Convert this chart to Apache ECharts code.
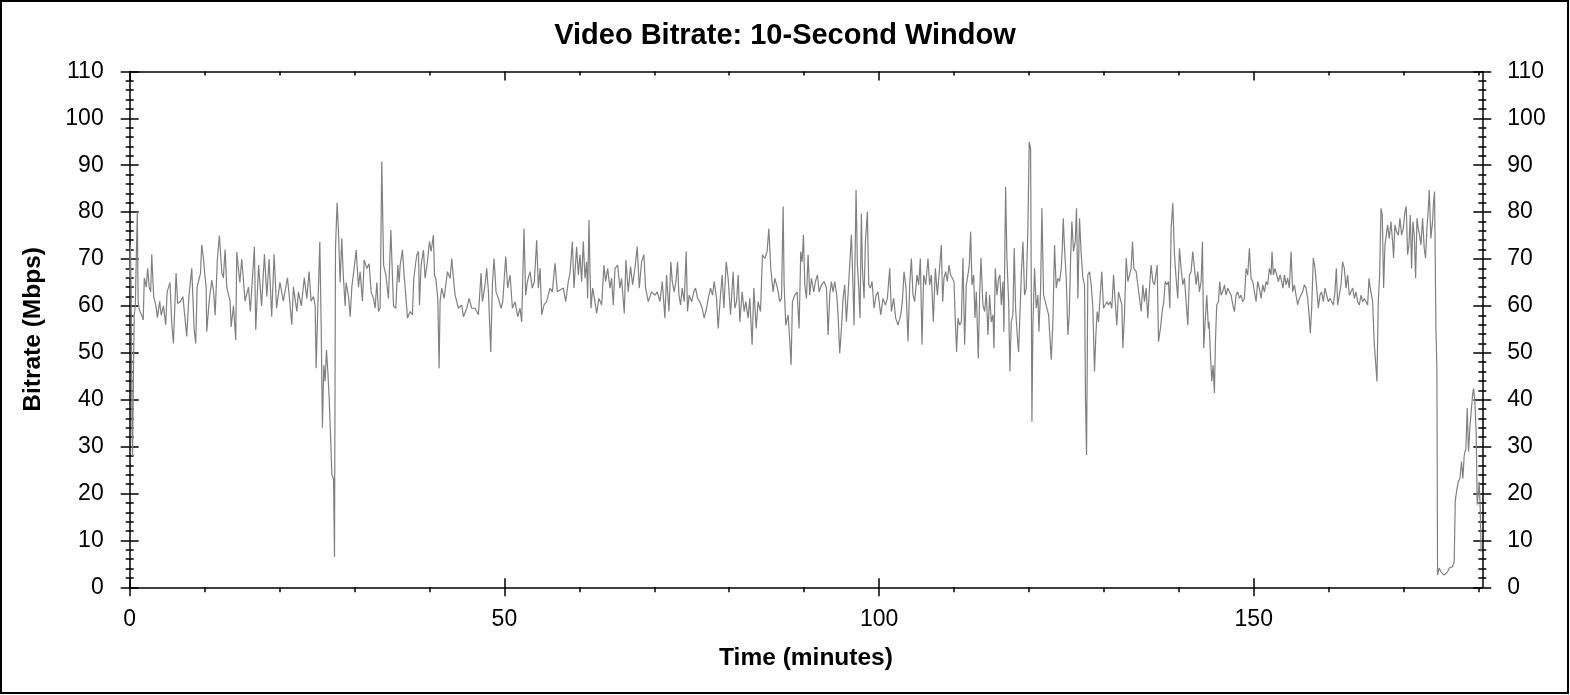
<!DOCTYPE html>
<html>
<head>
<meta charset="utf-8">
<title>Video Bitrate: 10-Second Window</title>
<script src="https://cdn.jsdelivr.net/npm/echarts@6/dist/echarts.min.js"></script>
<style>
  html, body { margin: 0; padding: 0; background: #fff; }
  #chart { width: 1570px; height: 695px; }
</style>
</head>
<body>
<div id="chart"></div>
<script>
// bitrate samples, split into five stretches of the timeline
const minutesA = [0, 0.1, 0.2, 0.3, 0.38, 0.5, 0.6, 0.75, 0.9, 1.02,
  1.12, 1.3, 1.6, 1.8, 1.95, 2.2, 2.4, 2.6, 2.8, 2.94,
  3.2, 3.5, 3.7, 4.0, 4.2, 4.5, 4.8, 5.0, 5.38, 5.6,
  5.83, 6.19, 6.4, 6.8, 7.1, 7.61, 7.9, 8.28, 8.6, 8.81,
  9.0, 9.3, 9.45, 9.61, 9.85, 10.06, 10.2, 10.28, 10.6, 10.95,
  11.2, 11.4, 11.7, 11.97, 12.3, 12.5, 12.73, 12.95, 13.4, 13.53,
  13.85, 14.15, 14.29, 14.7, 14.95, 15.4, 15.85, 16.1, 16.64, 16.82,
  17.2, 17.6, 17.98, 18.3, 18.6, 18.95, 19.27, 19.6, 20.05, 20.5,
  21.05, 21.3, 21.63, 21.85, 22.3, 22.52, 22.9, 23.3, 23.63, 23.94,
  24.2, 24.52, 24.75, 24.88, 25.05, 25.37, 25.55, 25.72, 25.9, 26.08,
  26.26, 26.44, 26.62, 26.8, 26.98, 27.2, 27.33, 27.46, 27.68, 27.86,
  28.08, 28.3, 28.52, 28.75, 28.88, 29.2, 29.42, 29.64, 30.0, 30.22,
  30.53, 30.75, 31.06, 31.29, 31.64, 31.95, 32.22, 32.53, 32.75, 32.98,
  33.2, 33.42, 33.64, 33.88, 34.18, 34.53, 34.85, 35.2, 35.51, 35.78,
  35.96]
const mbpsA = [66, 73, 62, 35, 28, 45, 58, 60, 72, 80,
  61, 59, 58, 57, 66, 64, 68, 64, 63, 71,
  62, 60, 57.5, 61, 58, 60, 56, 63, 65, 56.5,
  52, 67, 60.5, 61, 62, 53.5, 62, 68, 55, 52,
  64, 66, 67, 73, 70, 66, 64, 54.5, 61, 65.5,
  63, 58, 70, 75, 67, 66, 72, 64, 61, 55.5,
  60, 52.7, 71.5, 65, 70, 61, 64, 58.8, 72.6, 54.9,
  68.7, 60, 71, 62, 70, 57.7, 71, 59.5, 65, 61,
  66, 62, 56, 64, 58.8, 63, 60, 66, 61.6, 67.3,
  61, 62, 60, 46.7, 56.6, 73.7, 56, 34, 47.4, 43.9,
  50.6, 46, 40.3, 32.5, 24, 23.2, 6.5, 72.3, 82, 75.8,
  65, 74.4, 66, 60, 65, 62, 57.7, 64, 68.7, 71.9,
  64, 67.3, 61, 69.8, 68, 69, 63, 61.6, 59.5, 65,
  58.8, 59.5, 90.8, 68.7, 66.6, 61.6, 76.2, 60, 59.5, 68.7,
  65]

const minutesB = [36.09, 36.4, 36.62, 36.84, 37.07, 37.42, 37.73, 37.91, 38.31, 38.53,
  38.67, 38.89, 39.2, 39.42, 39.73, 40, 40.22, 40.53, 40.67, 40.84,
  41.11, 41.29, 41.42, 41.64, 41.96, 42.18, 42.4, 42.76, 42.98, 43.2,
  43.42, 43.87, 44.31, 44.53, 44.98, 45.29, 45.64, 46.09, 46.53, 46.89,
  47.07, 47.42, 47.64, 47.87, 48.18, 48.4, 48.62, 48.89, 49.2, 49.56,
  49.78, 50.18, 50.44, 50.76, 51.07, 51.42, 51.78, 52.09, 52.31, 52.62,
  52.84, 53.07, 53.42, 53.73, 54, 54.31, 54.53, 54.76, 54.98, 55.29,
  55.64, 56.09, 56.4, 56.76, 57.07, 57.42, 57.87, 58.18, 58.53, 58.76,
  59.07, 59.29, 59.64, 59.87, 60.09, 60.31, 60.53, 60.76, 60.98, 61.11,
  61.29, 61.42, 61.56, 61.78, 62.09, 62.31, 62.62, 62.98, 63.29, 63.51,
  63.78, 64.09, 64.31, 64.53, 64.76, 65.11, 65.42, 65.64, 66, 66.22,
  66.53, 66.84, 67.11, 67.42, 67.73, 68, 68.31, 68.62, 68.84, 69.2,
  69.64, 70.09, 70.4, 70.76, 71.07, 71.42, 71.64, 71.96]
const mbpsB = [68.7, 71.9, 66.6, 62.3, 57.4, 58.8, 58.1, 65.9, 70.9, 71.6,
  60.2, 68.7, 71.9, 65.9, 69.4, 73.7, 71.6, 75.1, 66.6, 65.9,
  61.6, 46.7, 60.9, 63.8, 61.6, 64.5, 67.3, 65.9, 70.1, 65.9,
  62.3, 59.5, 60.2, 57.7, 59.5, 61.6, 59.5, 59.5, 58.1, 67,
  60.9, 64.5, 68, 63, 50.2, 64.5, 70.1, 63, 61.6, 59.5,
  60.9, 70.5, 63.8, 66.6, 59.5, 60.9, 57.7, 59.5, 56.6, 76.5,
  62.3, 65.2, 67.3, 63.8, 65.2, 74, 63.8, 68, 58.1, 60.2,
  60.9, 63.8, 63, 69.1, 63, 63.4, 63.8, 60.9, 65.2, 67,
  73.7, 63.8, 72.6, 66.6, 70.9, 65.2, 73.7, 65.9, 69.4, 61.6,
  78.3, 68, 59.5, 63.8, 60.9, 58.4, 61.6, 60.2, 68.7, 65.2,
  68, 63.8, 65.9, 60.2, 68, 68.7, 63.8, 65.9, 58.4, 69.8,
  63, 68.4, 64.5, 68, 72.6, 63.8, 69.4, 70.9, 63.8, 60.9,
  63, 62.3, 63, 60.9, 65.2, 57.4, 66.6, 58.8]

const minutesC = [72.22, 72.4, 72.66, 72.89, 73.11, 73.29, 73.51, 73.73, 74.0, 74.26,
  74.44, 74.66, 74.98, 75.29, 75.51, 75.78, 76.09, 76.4, 76.66, 76.98,
  77.2, 77.51, 77.78, 78.0, 78.31, 78.53, 78.84, 79.06, 79.29, 79.6,
  79.86, 80.18, 80.53, 80.75, 80.98, 81.2, 81.42, 81.73, 82.0, 82.22,
  82.53, 82.75, 83.06, 83.29, 83.6, 83.86, 84.18, 84.44, 84.75, 85.06,
  85.29, 85.55, 85.86, 86.09, 86.44, 86.75, 86.98, 87.2, 87.33, 87.55,
  87.86, 88.09, 88.26, 88.44, 88.75, 89.06, 89.33, 89.55, 89.73, 89.91,
  90.09, 90.31, 90.53, 90.75, 90.98, 91.29, 91.51, 91.78, 92.0, 92.31,
  92.66, 92.98, 93.2, 93.42, 93.64, 93.86, 94.09, 94.35, 94.53, 94.75,
  94.98, 95.2, 95.42, 95.64, 95.86, 96.13, 96.31, 96.53, 96.66, 96.93,
  97.11, 97.29, 97.46, 97.64, 97.78, 98.0, 98.18, 98.44, 98.62, 98.84,
  99.06, 99.33, 99.6, 99.86, 100.22, 100.53, 100.84, 101.11, 101.42, 101.64,
  101.95, 102.22, 102.53, 102.89, 103.11, 103.33, 103.6, 103.86, 104.09, 104.31,
  104.53, 104.75, 105.06, 105.29, 105.51, 105.73, 105.95, 106.22, 106.53, 106.75,
  106.98, 107.24, 107.51, 107.78, 108.0]
const mbpsC = [69.4, 65.2, 63.0, 65.2, 69.4, 62.3, 60.2, 63.8, 60.9, 71.6,
  58.8, 62.3, 60.9, 63.0, 63.8, 61.6, 60.9, 59.5, 57.4, 59.5,
  61.6, 63.8, 62.3, 65.2, 61.6, 55.2, 62.3, 66.6, 59.5, 69.4,
  65.9, 58.1, 67.3, 59.5, 60.9, 66.6, 56.6, 63.0, 58.8, 60.9,
  57.4, 61.6, 51.7, 63.8, 55.2, 60.9, 58.8, 70.9, 70.1, 71.6,
  76.5, 68.0, 63.0, 65.9, 63.8, 60.9, 61.6, 81.2, 64.5, 55.9,
  58.1, 52.4, 47.4, 60.9, 62.3, 63.0, 55.2, 71.6, 69.4, 75.1,
  64.5, 61.6, 70.9, 62.3, 65.9, 63.0, 65.2, 66.6, 63.0, 64.5,
  65.2, 63.8, 53.8, 62.3, 65.2, 63.0, 65.2, 62.3, 58.1, 49.9,
  55.2, 61.6, 64.5, 56.6, 62.3, 70.1, 75.1, 63.8, 55.9, 84.7,
  68.7, 63.8, 57.4, 79.7, 68.0, 61.6, 73.7, 80.1, 64.5, 63.8,
  65.2, 59.5, 62.3, 63.0, 58.1, 61.6, 60.2, 61.6, 68.0, 58.8,
  61.6, 57.4, 55.9, 58.1, 60.9, 67.3, 63.8, 52.4, 64.5, 70.1,
  62.3, 60.9, 66.6, 64.5, 70.1, 51.7, 66.6, 64.5, 70.1, 64.5,
  66.6, 56.6, 68.0, 62.3, 66.6]

const minutesD = [108.31, 108.49, 108.66, 108.89, 109.11, 109.33, 109.55, 109.78, 110.0, 110.18,
  110.35, 110.53, 110.75, 110.98, 111.2, 111.42, 111.64, 111.86, 112.04, 112.22,
  112.4, 112.62, 112.8, 112.98, 113.24, 113.42, 113.6, 113.86, 114.09, 114.31,
  114.53, 114.75, 114.98, 115.2, 115.33, 115.51, 115.73, 115.95, 116.13, 116.31,
  116.53, 116.66, 116.89, 117.06, 117.29, 117.46, 117.64, 117.86, 118.04, 118.22,
  118.44, 118.62, 118.75, 118.98, 119.2, 119.42, 119.64, 119.86, 120.04, 120.22,
  120.4, 120.53, 120.75, 120.98, 121.2, 121.33, 121.55, 121.73, 121.95, 122.18,
  122.4, 122.62, 122.84, 122.98, 123.2, 123.42, 123.64, 123.86, 124.09, 124.31,
  124.44, 124.58, 124.75, 124.98, 125.2, 125.38, 125.55, 125.73, 125.95, 126.18,
  126.35, 126.53, 126.75, 126.98, 127.2, 127.42, 127.55, 127.69, 127.86, 128.09,
  128.31, 128.53, 128.75, 128.93, 129.11, 129.29, 129.51, 129.73, 129.95, 130.18,
  130.4, 130.62, 130.84, 131.06, 131.29, 131.51, 131.73, 131.95, 132.18, 132.4,
  132.53, 132.75, 132.98, 133.2, 133.42, 133.64, 133.82, 134.0, 134.31, 134.53,
  134.75, 134.98, 135.2, 135.42, 135.64, 135.86, 136.09, 136.31, 136.53, 136.75,
  137.11, 137.29, 137.55, 137.78, 138.0, 138.18, 138.4, 138.62, 138.8, 138.98,
  139.2, 139.42, 139.64, 139.86, 140.09, 140.31, 140.53, 140.75, 140.98, 141.2,
  141.42, 141.64, 141.86, 142.09, 142.31, 142.53, 142.75, 142.98, 143.15, 143.33,
  143.51, 143.73, 143.95]
const mbpsD = [73.0, 60.9, 65.9, 67.3, 65.2, 68.7, 66.6, 65.9, 65.2, 56.6,
  50.2, 57.4, 55.9, 56.6, 70.2, 51.7, 64.5, 66.6, 68.7, 75.8,
  64.5, 66.6, 57.4, 63.0, 48.8, 62.3, 70.2, 60.2, 58.8, 63.0,
  53.8, 62.3, 56.6, 58.1, 51.0, 68.0, 62.3, 65.9, 66.6, 60.2,
  65.2, 54.5, 85.4, 70.2, 60.9, 46.0, 56.6, 58.1, 72.3, 59.5,
  53.8, 50.2, 55.9, 66.6, 73.7, 62.3, 63.8, 76.5, 95.0, 93.6,
  35.3, 55.9, 68.0, 59.5, 62.3, 54.5, 63.0, 80.8, 62.3, 60.9,
  60.9, 58.1, 58.1, 48.5, 56.6, 73.0, 63.8, 65.9, 65.2, 68.0,
  71.6, 78.7, 72.3, 65.9, 53.8, 58.1, 69.4, 78.0, 71.6, 73.7,
  80.8, 61.6, 78.7, 70.9, 65.9, 64.5, 39.6, 28.2, 66.6, 67.3,
  64.5, 59.5, 46.0, 53.8, 58.8, 56.6, 62.3, 67.3, 59.5, 60.2,
  60.9, 60.2, 60.9, 59.5, 66.6, 60.9, 55.9, 63.0, 63.0, 60.2,
  51.0, 58.1, 70.2, 65.2, 65.2, 68.0, 73.7, 68.0, 67.3, 64.5,
  64.5, 58.8, 64.5, 60.9, 63.8, 57.4, 63.8, 68.7, 65.2, 64.5,
  68.7, 52.4, 55.2, 58.8, 60.9, 65.2, 64.5, 65.2, 59.5, 76.5,
  81.9, 70.9, 65.9, 61.6, 72.3, 68.0, 64.5, 65.9, 60.9, 55.9,
  66.6, 67.3, 71.6, 68.0, 64.5, 67.3, 63.0, 65.2, 73.7, 51.0,
  56.6, 62.3, 55.2]

const minutesE = [144.04, 144.22, 144.4, 144.58, 144.75, 144.89, 145.06, 145.29, 145.46, 145.64,
  145.86, 146.09, 146.31, 146.53, 146.75, 146.98, 147.2, 147.42, 147.64, 147.86,
  148.09, 148.31, 148.53, 148.75, 148.98, 149.2, 149.42, 149.64, 149.86, 150.09,
  150.31, 150.53, 150.75, 150.98, 151.2, 151.42, 151.64, 151.86, 152.09, 152.31,
  152.44, 152.62, 152.84, 153.06, 153.29, 153.51, 153.73, 153.91, 154.09, 154.31,
  154.53, 154.75, 154.98, 155.2, 155.42, 155.64, 155.86, 156.09, 156.31, 156.53,
  156.75, 156.98, 157.2, 157.42, 157.55, 157.73, 157.95, 158.18, 158.4, 158.62,
  158.84, 159.06, 159.29, 159.51, 159.73, 159.95, 160.18, 160.4, 160.62, 160.84,
  161.02, 161.2, 161.42, 161.64, 161.86, 162.09, 162.31, 162.53, 162.75, 162.98,
  163.2, 163.42, 163.64, 163.86, 164.09, 164.31, 164.53, 164.75, 164.98, 165.2,
  165.38, 165.55, 165.73, 165.86, 166.09, 166.26, 166.44, 166.62, 166.8, 166.98,
  167.15, 167.33, 167.51, 167.69, 167.86, 168.09, 168.31, 168.53, 168.66, 168.84,
  169.06, 169.29, 169.51, 169.73, 169.95, 170.18, 170.35, 170.53, 170.71, 170.89,
  171.06, 171.24, 171.42, 171.6, 171.78, 171.95, 172.13, 172.31, 172.53, 172.75,
  172.93, 173.11, 173.29, 173.42, 173.64, 173.86, 174.0, 174.13, 174.31, 174.44,
  174.53, 174.75, 174.98, 175.2, 175.42, 175.64, 175.86, 176.09, 176.31, 176.53,
  176.75, 176.89, 177.06, 177.29, 177.51, 177.73, 177.91, 178.09, 178.31, 178.49,
  178.66, 178.84, 179.02, 179.2, 179.33, 179.51, 179.69, 179.82, 179.95, 180.09,
  180.22, 180.35]
const mbpsE = [56.6, 49.5, 43.9, 47.4, 41.4, 52.4, 60.2, 60.9, 65.2, 62.3,
  63.0, 64.5, 62.3, 63.8, 63.0, 62.3, 60.2, 58.8, 62.3, 63.0,
  61.6, 62.3, 60.9, 61.6, 68.0, 66.6, 72.3, 65.9, 65.2, 65.2,
  60.9, 65.2, 63.8, 61.6, 64.5, 63.0, 65.2, 64.5, 68.0, 66.6,
  71.6, 66.6, 68.0, 66.6, 65.2, 66.6, 65.2, 63.8, 66.6, 64.5,
  65.9, 63.8, 71.6, 63.0, 64.5, 62.3, 60.2, 61.6, 62.3, 63.0,
  64.5, 63.8, 61.6, 57.4, 54.2, 59.5, 70.2, 68.0, 63.8, 59.5,
  62.3, 63.0, 60.9, 63.8, 62.3, 60.9, 61.6, 60.9, 60.2, 63.0,
  68.0, 60.2, 62.3, 64.5, 69.4, 68.0, 63.8, 66.6, 62.3, 63.0,
  63.8, 61.6, 63.0, 60.9, 60.2, 62.3, 60.9, 61.6, 60.9, 60.2,
  65.9, 63.8, 62.3, 60.9, 51.7, 48.1, 43.9, 60.9, 66.6, 80.8,
  79.4, 63.8, 73.0, 75.1, 77.3, 74.4, 78.0, 73.7, 70.2, 77.3,
  75.8, 75.1, 78.7, 75.1, 76.5, 80.1, 81.2, 70.9, 73.0, 79.4,
  68.0, 78.0, 75.1, 65.9, 78.7, 76.5, 75.1, 73.0, 78.7, 72.3,
  70.2, 76.5, 80.5, 84.7, 74.4, 78.0, 82.2, 84.4, 55.2, 46.7,
  2.6, 4.1, 3.3, 3.0, 2.6, 3.0, 3.3, 4.1, 3.7, 4.4,
  5.5, 18.3, 20.4, 22.5, 23.2, 26.8, 23.2, 28.2, 29.6, 38.2,
  28.9, 33.9, 37.5, 41.0, 42.4, 39.6, 32.5, 17.6, 19.7, 22.5,
  16.8, 7.6]

const xMin = 0
const xMax = 180.5
const xStep = 50
const xMajorTicks = [0, 50, 100, 150]
const yMin = 0
const yMax = 110
const yStep = 10

const minutes = [].concat(minutesA, minutesB, minutesC, minutesD, minutesE)
const mbps = [].concat(mbpsA, mbpsB, mbpsC, mbpsD, mbpsE)
if (minutes.length !== mbps.length) console.error('length mismatch', minutes.length, mbps.length)

const points = minutes.map((m, i) => [m, mbps[i]])

var font = 'Liberation Sans, Arial, sans-serif'
var black = '#000'
var axisPen = { color: black, width: 1.5 }

// the reference draws crossing ticks, so each side gets an inner and an outer axis
function xAxisDef(position, inside, opts) {
    return Object.assign({
        type: 'value', position: position, min: xMin, max: xMax, interval: xStep,
        axisLine: { show: false, onZero: false },
        axisTick: { show: true, inside: inside, length: 9, lineStyle: axisPen, customValues: xMajorTicks },
        minorTick: { show: false },
        axisLabel: { show: false },
        splitLine: { show: false }
    }, opts)
}

function yAxisDef(position, inside, opts) {
    return Object.assign({
        type: 'value', position: position, min: yMin, max: yMax, interval: yStep,
        axisLine: { show: false, onZero: false },
        axisTick: { show: true, inside: inside, length: 9, lineStyle: axisPen },
        minorTick: { show: true, splitNumber: 5, length: 4, lineStyle: axisPen },
        axisLabel: { show: false },
        splitLine: { show: false }
    }, opts)
}

var myChart = echarts.init(document.getElementById('chart'), null, { renderer: 'canvas' })

var option = {
    animation: false,
    backgroundColor: '#fff',
    title: {
        text: 'Video Bitrate: 10-Second Window',
        left: 'center',
        top: 16,
        textStyle: { fontFamily: font, fontSize: 29, fontWeight: 'bold', color: black }
    },
    grid: { left: 129.7, right: 87.7, top: 71.4, bottom: 107.7 },
    xAxis: [
        xAxisDef('bottom', true, {
            axisLine: { show: true, onZero: false, lineStyle: axisPen },
            axisLabel: { show: true, margin: 21, fontFamily: font, fontSize: 23, color: black, showMaxLabel: false },
            name: 'Time (minutes)',
            nameLocation: 'middle',
            nameGap: 58,
            nameTextStyle: { fontFamily: font, fontSize: 24.5, fontWeight: 'bold', color: black }
        }),
        xAxisDef('bottom', false, {
            minorTick: { show: true, splitNumber: 5, length: 5, lineStyle: axisPen }
        }),
        xAxisDef('top', true, {
            axisLine: { show: true, onZero: false, lineStyle: axisPen },
            minorTick: { show: true, splitNumber: 5, length: 4, lineStyle: axisPen }
        })
    ],
    yAxis: [
        yAxisDef('left', true, {
            axisLine: { show: true, onZero: false, lineStyle: axisPen },
            axisLabel: { show: true, margin: 26, fontFamily: font, fontSize: 23, color: black },
            name: 'Bitrate (Mbps)',
            nameLocation: 'middle',
            nameGap: 84,
            nameTextStyle: { fontFamily: font, fontSize: 24.5, fontWeight: 'bold', color: black }
        }),
        yAxisDef('left', false, {}),
        yAxisDef('right', true, {
            axisLine: { show: true, onZero: false, lineStyle: axisPen },
            axisLabel: { show: true, margin: 25, fontFamily: font, fontSize: 23, color: black }
        }),
        yAxisDef('right', false, {})
    ],
    graphic: [{
        type: 'rect',
        shape: { x: 1, y: 1, width: 1567, height: 692 },
        style: { fill: null, stroke: black, lineWidth: 2 },
        silent: true
    }],
    series: [{
        name: 'Bitrate',
        type: 'line',
        data: points,
        showSymbol: false,
        symbol: 'none',
        sampling: null,
        lineStyle: { color: '#808080', width: 1.2 },
        xAxisIndex: 0,
        yAxisIndex: 0
    }]
}

myChart.setOption(option)
</script>
</body>
</html>
